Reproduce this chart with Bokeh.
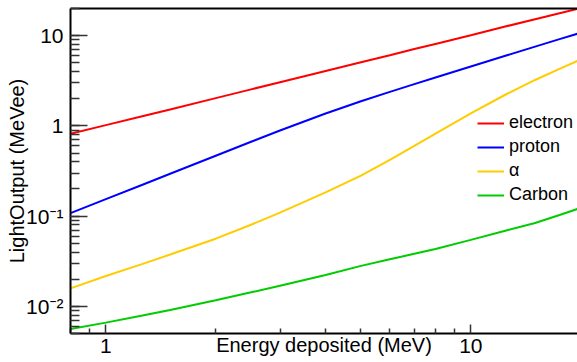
from bokeh.plotting import figure
from bokeh.models import (Legend, LegendItem, LogAxis, CustomJSTickFormatter,
                          FixedTicker, Range1d)
from bokeh.embed import file_html
from bokeh.resources import INLINE

# ---- data ----
energy   = [0.8, 1.0, 1.25, 1.5, 2.0, 2.5, 3.0, 4.0, 5.0, 6.0, 7.0, 8.0, 10.0, 12.5, 15.0, 17.5, 19.6]
electron = [0.82, 1.02, 1.27, 1.52, 2.03, 2.54, 3.05, 4.06, 5.07, 6.08, 7.1, 8.1, 10.1, 12.7, 15.2, 17.7, 19.8]
proton   = [0.108, 0.154, 0.220, 0.295, 0.467, 0.667, 0.890, 1.371, 1.874, 2.384, 2.904, 3.435, 4.55, 6.02, 7.56, 9.16, 10.5]
alpha    = [0.0158, 0.0217, 0.0292, 0.0375, 0.0562, 0.0803, 0.1095, 0.183, 0.281, 0.42, 0.60, 0.821, 1.372, 2.242, 3.228, 4.293, 5.25]
carbon   = [0.0056, 0.0066, 0.00785, 0.0091, 0.0117, 0.0143, 0.0169, 0.0222, 0.0281, 0.0333, 0.0382, 0.0433, 0.0545, 0.0692, 0.0838, 0.103, 0.120]

series_names  = ["electron", "proton", "\u03b1", "Carbon"]
series_values = [electron, proton, alpha, carbon]
series_colors = ["#ff0000", "#0000ff", "#ffcc00", "#00cc00"]

x_major_ticks = [1, 10]
x_minor_ticks = [m * 10.0 ** k for k in (-1, 0, 1) for m in range(2, 10)]

x_title = "Energy deposited (MeV)"
y_title = "LightOutput (MeVee)"

FONT = "Liberation Sans"
TICK_FONT = "Liberation Sans, 'Noto Sans'"

p = figure(width=577, height=362, x_axis_type="log", y_axis_type="log",
           x_range=Range1d(0.8, 19.6), y_range=Range1d(0.005, 20),
           output_backend="svg", toolbar_location=None,
           min_border_left=70, min_border_right=0, min_border_top=8, min_border_bottom=29)
p.background_fill_color = "white"
p.border_fill_color = "white"
p.outline_line_color = None
p.xgrid.visible = False
p.ygrid.visible = False

fmt = CustomJSTickFormatter(code="""
const e = Math.round(Math.log10(tick));
if (e >= 0) { return String(Math.round(tick)); }
const sup = {"-": "\\u207b", "0": "\\u2070", "1": "\\u00b9", "2": "\\u00b2", "3": "\\u00b3",
             "4": "\\u2074", "5": "\\u2075", "6": "\\u2076", "7": "\\u2077", "8": "\\u2078", "9": "\\u2079"};
return "10" + String(e).split("").map(c => sup[c]).join("");
""")

p.xaxis.ticker = FixedTicker(ticks=x_major_ticks, minor_ticks=x_minor_ticks)

for ax in (p.xaxis[0], p.yaxis[0]):
    ax.formatter = fmt
    ax.axis_line_color = "black"
    ax.axis_line_width = 2
    ax.major_tick_line_color = "#333333"
    ax.minor_tick_line_color = "#333333"
    ax.major_tick_line_width = 1.5
    ax.minor_tick_line_width = 1.5
    ax.major_tick_out = 0
    ax.minor_tick_out = 0
    ax.major_label_text_font = TICK_FONT
    ax.major_label_text_font_size = "21px"
    ax.major_label_text_color = "black"
    ax.axis_label_text_font = FONT
    ax.axis_label_text_font_size = "20px"
    ax.axis_label_text_font_style = "normal"
    ax.axis_label_text_color = "black"

p.xaxis.major_tick_in = 9
p.xaxis.minor_tick_in = 5
p.xaxis.major_label_standoff = 5
p.xaxis.axis_label = x_title
p.xaxis.axis_label_standoff = -22

p.yaxis.major_tick_in = 17
p.yaxis.minor_tick_in = 9
p.yaxis.major_label_standoff = 7
p.yaxis.axis_label = y_title
p.yaxis.axis_label_standoff = -5

top = LogAxis(ticker=FixedTicker(ticks=[]), axis_line_color="black", axis_line_width=2,
              major_tick_in=0, major_tick_out=0, minor_tick_in=0, minor_tick_out=0,
              major_label_text_font_size="0px", major_label_standoff=0)
p.add_layout(top, "above")

renderers = []
for name, vals, col in zip(series_names, series_values, series_colors):
    r = p.line(energy, vals, line_color=col, line_width=2)
    renderers.append(r)

legend = Legend(items=[LegendItem(label=n, renderers=[r]) for n, r in zip(series_names, renderers)],
                location=(407, 128))
legend.background_fill_alpha = 0
legend.border_line_color = None
legend.padding = 0
legend.margin = 0
legend.spacing = 3
legend.glyph_width = 27
legend.glyph_height = 20
legend.label_height = 20
legend.label_standoff = 5
legend.label_text_font = FONT
legend.label_text_font_size = "18px"
legend.label_text_color = "black"
p.add_layout(legend)

open("out.html", "w").write(file_html(p, INLINE))
